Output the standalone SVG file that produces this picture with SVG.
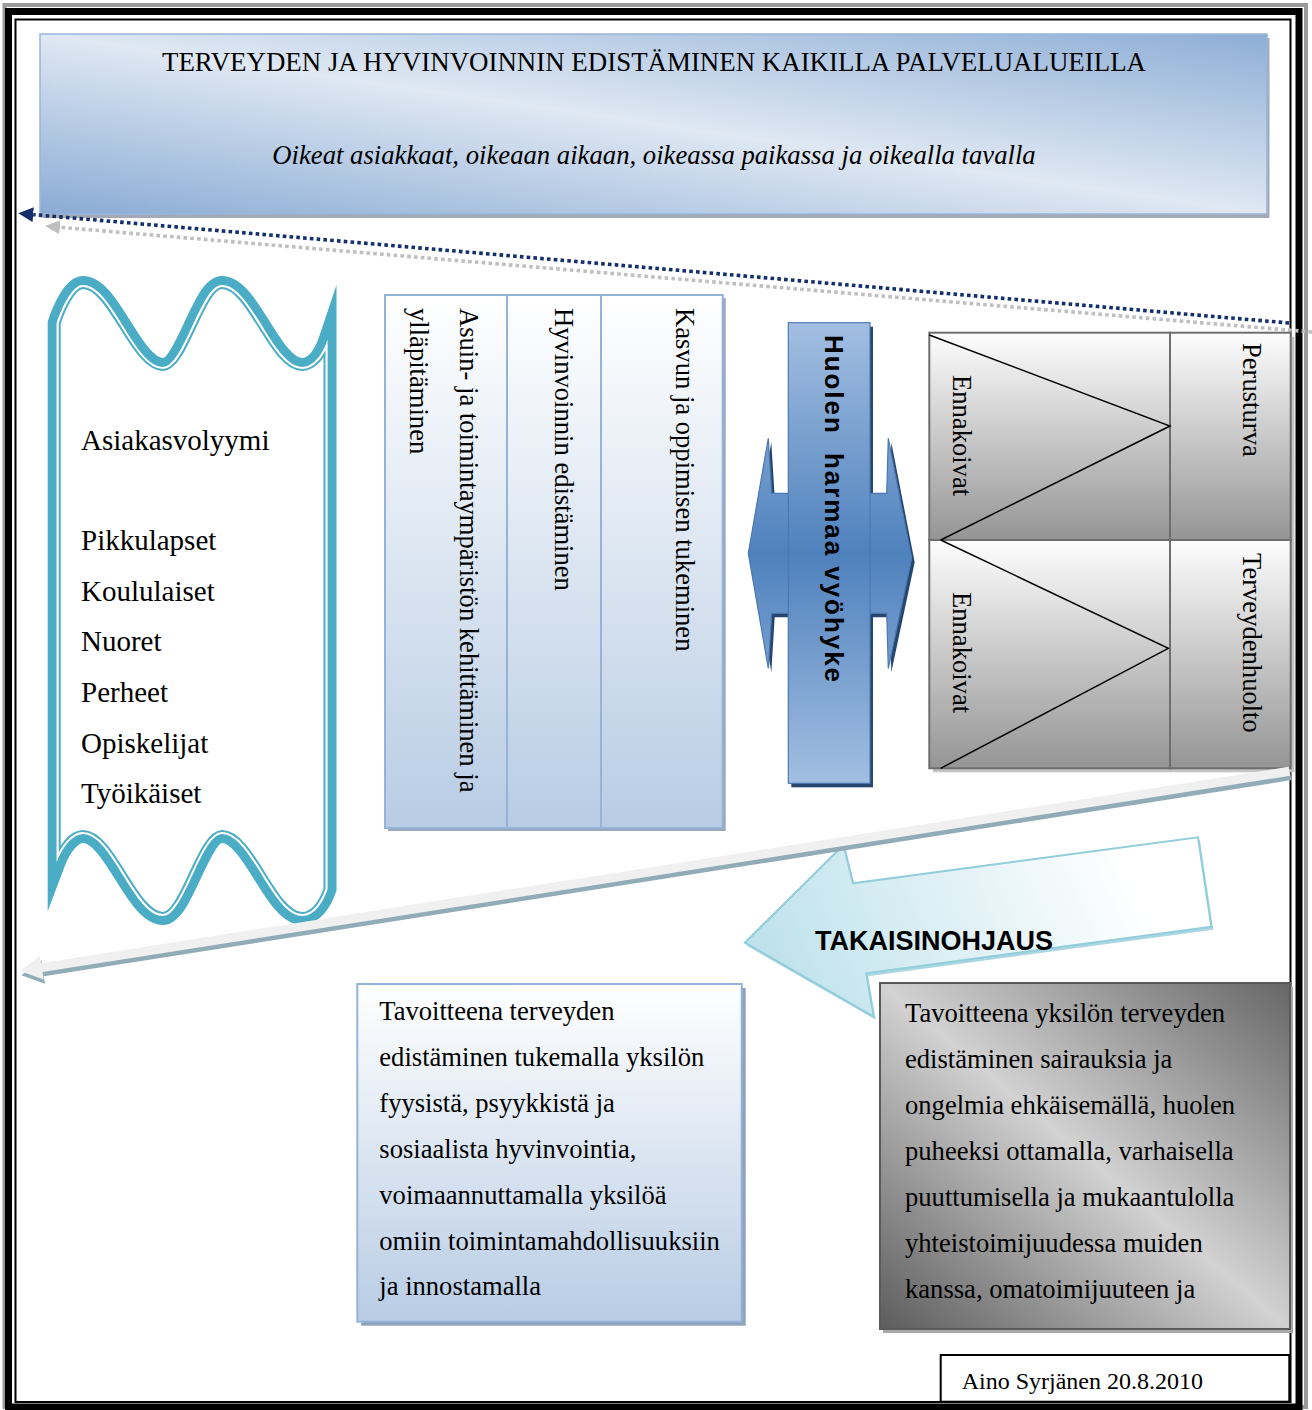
<svg xmlns="http://www.w3.org/2000/svg" width="1312" height="1410" viewBox="0 0 1312 1410">
<style>
.serif{font-family:"Liberation Serif","Times New Roman",serif;fill:#000}
.sans{font-family:"Liberation Sans",Arial,sans-serif;fill:#000}
.t26{font-size:26.6px}
.lst{font-size:29px}
.colbox{fill:url(#gCol);stroke:#95b3d7;stroke-width:2}
.colsh{fill:#9aa8ba}
.cell{fill:url(#gGray);stroke:#6e6e6e;stroke-width:2}
.tri{fill:none;stroke:#000;stroke-width:1.5}
.dot{fill:none;stroke-width:3.6;stroke-dasharray:3.6 3.2}
</style>
<defs>
<linearGradient id="gTop" x1="0" y1="1" x2="1" y2="0">
<stop offset="0" stop-color="#8aabd5"/>
<stop offset="0.5" stop-color="#dfe8f3"/>
<stop offset="1" stop-color="#8eaed6"/>
</linearGradient>
<linearGradient id="gCol" x1="0" y1="0" x2="0" y2="1">
<stop offset="0" stop-color="#ffffff"/>
<stop offset="1" stop-color="#b8cce4"/>
</linearGradient>
<linearGradient id="gArrow" gradientUnits="userSpaceOnUse" x1="0" y1="323" x2="0" y2="785">
<stop offset="0" stop-color="#a3bfe2"/>
<stop offset="0.5" stop-color="#4f81bd"/>
<stop offset="1" stop-color="#a3bfe2"/>
</linearGradient>
<linearGradient id="gGray" x1="0" y1="0" x2="0" y2="1">
<stop offset="0" stop-color="#fdfdfd"/>
<stop offset="1" stop-color="#959595"/>
</linearGradient>
<linearGradient id="gFeed" gradientUnits="userSpaceOnUse" x1="790" y1="1000" x2="1120" y2="850">
<stop offset="0" stop-color="#bfe2ec"/>
<stop offset="1" stop-color="#ffffff"/>
</linearGradient>
<linearGradient id="gDark" x1="0" y1="1" x2="1" y2="0">
<stop offset="0" stop-color="#5c5c5c"/>
<stop offset="0.5" stop-color="#d2d2d2"/>
<stop offset="1" stop-color="#666666"/>
</linearGradient>
<path id="S" d="M56.7,323 C61.4,308.7 72,285 83,285 C112,285 134,367 163,367 C184,367 201,285 222,285 C251,285 273,367 302,367 C314,367 322.8,354 327.5,340 L327.5,889 C322.8,903 314,916 302,916 C273,916 251,834 222,834 C201,834 184,916 163,916 C134,916 112,834 83,834 C72,834 62,848 56.7,862 Z"/>
<clipPath id="sclip"><use href="#S"/></clipPath>
<marker id="mNavy" viewBox="0 0 15 15" refX="0" refY="7.5" markerWidth="15" markerHeight="15" markerUnits="userSpaceOnUse" orient="auto"><path d="M0,0 L15,7.5 L0,15 Z" fill="#14306b"/></marker>
<marker id="mGray" viewBox="0 0 15 14" refX="0" refY="7" markerWidth="15" markerHeight="14" markerUnits="userSpaceOnUse" orient="auto"><path d="M0,0 L15,7 L0,14 Z" fill="#c0c0c0"/></marker>
</defs>

<rect width="1312" height="1410" fill="#ffffff"/>

<g id="frame">
<rect x="4.5" y="5" width="1301.5" height="1402" fill="none" stroke="#9a9a9a" stroke-width="4"/>
<rect x="8.5" y="11.5" width="1290.5" height="1395.5" fill="none" stroke="#000" stroke-width="7"/>
<rect x="15.5" y="19.5" width="1275" height="1382.5" fill="none" stroke="#000" stroke-width="2"/>
</g>

<g id="header">
<rect x="42.5" y="38" width="1227" height="180" fill="#a3aab5"/>
<rect x="40" y="34" width="1227" height="180" fill="url(#gTop)" stroke="#9ab5d8" stroke-width="1.5"/>
<text class="serif" font-size="26.9" x="654" y="70.5" text-anchor="middle">TERVEYDEN JA HYVINVOINNIN EDISTÄMINEN KAIKILLA PALVELUALUEILLA</text>
<text class="serif" font-size="26.7" x="654" y="164" text-anchor="middle" font-style="italic">Oikeat asiakkaat, oikeaan aikaan, oikeassa paikassa ja oikealla tavalla</text>
</g>

<g id="connectors">
<line class="dot" x1="1312" y1="332" x2="59.9" y2="227.3" stroke="#bfbfbf" marker-end="url(#mGray)"/>
<line class="dot" x1="1289" y1="323" x2="33.2" y2="214.6" stroke="#14306b" marker-end="url(#mNavy)"/>
</g>

<g id="asiakasvolyymi">
<use href="#S" fill="none" stroke="#4bacc6" stroke-width="18" stroke-linejoin="miter" stroke-miterlimit="12"/>
<use href="#S" fill="#ffffff"/>
<g clip-path="url(#sclip)">
<use href="#S" fill="none" stroke="#4bacc6" stroke-width="8"/>
<use href="#S" fill="none" stroke="#ffffff" stroke-width="4"/>
</g>
<text class="serif lst" x="81" y="450">Asiakasvolyymi</text>
<text class="serif lst" x="81" y="550">Pikkulapset</text>
<text class="serif lst" x="81" y="601">Koululaiset</text>
<text class="serif lst" x="81" y="651">Nuoret</text>
<text class="serif lst" x="81" y="702">Perheet</text>
<text class="serif lst" x="81" y="753">Opiskelijat</text>
<text class="serif lst" x="81" y="803">Työikäiset</text>
</g>

<g id="col-asuin">
<rect class="colsh" x="388" y="298" width="122" height="533"/>
<rect class="colbox" x="385" y="295" width="122" height="533"/>
<text class="serif t26" transform="translate(460,308) rotate(90)">Asuin- ja toimintaympäristön kehittäminen ja</text>
<text class="serif t26" transform="translate(409.5,308) rotate(90)">ylläpitäminen</text>
</g>
<g id="col-hyvinvointi">
<rect class="colsh" x="510" y="298" width="94" height="533"/>
<rect class="colbox" x="507" y="295" width="94" height="533"/>
<text class="serif t26" transform="translate(554.5,308) rotate(90)">Hyvinvoinnin edistäminen</text>
</g>
<g id="col-kasvu">
<rect class="colsh" x="604" y="298" width="121.7" height="533"/>
<rect class="colbox" x="601" y="295" width="121.7" height="533"/>
<text class="serif t26" transform="translate(676,308) rotate(90)">Kasvun ja oppimisen tukeminen</text>
</g>

<g id="huolen">
<g transform="translate(3,4)" fill="#27466f">
<path d="M748.3,553.3 L768.3,438.3 L771.7,493.3 L886.7,493.3 L888.3,438.3 L911.7,558.3 L888.3,668.3 L886.7,613.3 L771.7,613.3 L768.3,668.3 Z"/>
<rect x="788.3" y="322.7" width="81.7" height="460.6"/>
</g>
<path d="M748.3,553.3 L768.3,438.3 L771.7,493.3 L886.7,493.3 L888.3,438.3 L911.7,558.3 L888.3,668.3 L886.7,613.3 L771.7,613.3 L768.3,668.3 Z" fill="url(#gArrow)" stroke="#4a78b3" stroke-width="1.2"/>
<rect x="788.3" y="322.7" width="81.7" height="460.6" fill="url(#gArrow)" stroke="#4a78b3" stroke-width="1.2"/>
<text class="sans" font-size="26" font-weight="bold" style="white-space:pre" transform="translate(825,335) rotate(90)" textLength="347" lengthAdjust="spacing">Huolen  harmaa vyöhyke</text>
</g>

<g id="palvelut">
<rect x="933" y="336.7" width="361.4" height="435.6" fill="#c4c4c4"/>
<rect class="cell" x="929.3" y="332.7" width="240.7" height="207.3"/>
<rect class="cell" x="1170" y="332.7" width="120.7" height="207.3"/>
<rect class="cell" x="929.3" y="540" width="240.7" height="228.3"/>
<rect class="cell" x="1170" y="540" width="120.7" height="228.3"/>
<polyline class="tri" points="929.3,335 1170,426 940.7,540"/>
<polyline class="tri" points="940.7,540 1168.3,648.3 940.7,768.3"/>
<text class="serif t26" transform="translate(953,375) rotate(90)">Ennakoivat</text>
<text class="serif t26" transform="translate(953,592) rotate(90)">Ennakoivat</text>
<text class="serif t26" transform="translate(1243,343) rotate(90)">Perusturva</text>
<text class="serif t26" transform="translate(1243,553) rotate(90)">Terveydenhuolto</text>
</g>

<g id="takaisinohjaus">
<polygon points="746.9,945.7 845.5,848 855,886.3 1200,840.3 1213.3,929.7 868.2,976.3 875.7,1019.7" fill="#acd6e1"/>
<polygon points="744.9,942.7 843.5,845 853,883.3 1198,837.3 1211.3,926.7 866.2,973.3 873.7,1016.7" fill="url(#gFeed)" stroke="#92cddc" stroke-width="2"/>
<text class="sans" font-size="27" font-weight="bold" x="815" y="950">TAKAISINOHJAUS</text>
</g>

<g id="palaute-nuoli" transform="translate(20,971) rotate(-8.94)">
<polygon transform="translate(0.7,4.5)" points="0,0 22,-12 22,-4.5 1285,-4.5 1285,4.5 22,4.5 22,12" fill="#91acb7"/>
<polygon points="0,0 22,-12 22,-4.5 1285,-4.5 1285,4.5 22,4.5 22,12" fill="#f0f0f0"/>
</g>

<g id="tavoite-1">
<rect x="361.3" y="988" width="384.4" height="337.7" fill="#8fa2bb"/>
<rect x="357.3" y="984" width="384.4" height="337.7" fill="url(#gCol)" stroke="#95b3d7" stroke-width="2"/>
<text class="serif t26" x="379.3" y="1020">Tavoitteena terveyden</text>
<text class="serif t26" x="379.3" y="1066">edistäminen tukemalla yksilön</text>
<text class="serif t26" x="379.3" y="1112">fyysistä, psyykkistä ja</text>
<text class="serif t26" x="379.3" y="1158">sosiaalista hyvinvointia,</text>
<text class="serif t26" x="379.3" y="1203.5">voimaannuttamalla yksilöä</text>
<text class="serif t26" x="379.3" y="1249.5">omiin toimintamahdollisuuksiin</text>
<text class="serif t26" x="379.3" y="1295">ja innostamalla</text>
</g>

<g id="tavoite-2">
<rect x="883" y="987" width="410" height="346" fill="#a8a8a8"/>
<rect x="880" y="983" width="410" height="346" fill="url(#gDark)" stroke="#5a5a5a" stroke-width="2"/>
<text class="serif t26" x="905" y="1022">Tavoitteena yksilön terveyden</text>
<text class="serif t26" x="905" y="1068">edistäminen sairauksia ja</text>
<text class="serif t26" x="905" y="1114">ongelmia ehkäisemällä, huolen</text>
<text class="serif t26" x="905" y="1160">puheeksi ottamalla, varhaisella</text>
<text class="serif t26" x="905" y="1206">puuttumisella ja mukaantulolla</text>
<text class="serif t26" x="905" y="1252">yhteistoimijuudessa muiden</text>
<text class="serif t26" x="905" y="1298">kanssa, omatoimijuuteen ja</text>
</g>

<g id="tekija">
<rect x="940.7" y="1355" width="348.6" height="46.7" fill="#ffffff" stroke="#000" stroke-width="2"/>
<text class="serif" font-size="24" x="961.7" y="1389">Aino Syrjänen 20.8.2010</text>
</g>
</svg>
